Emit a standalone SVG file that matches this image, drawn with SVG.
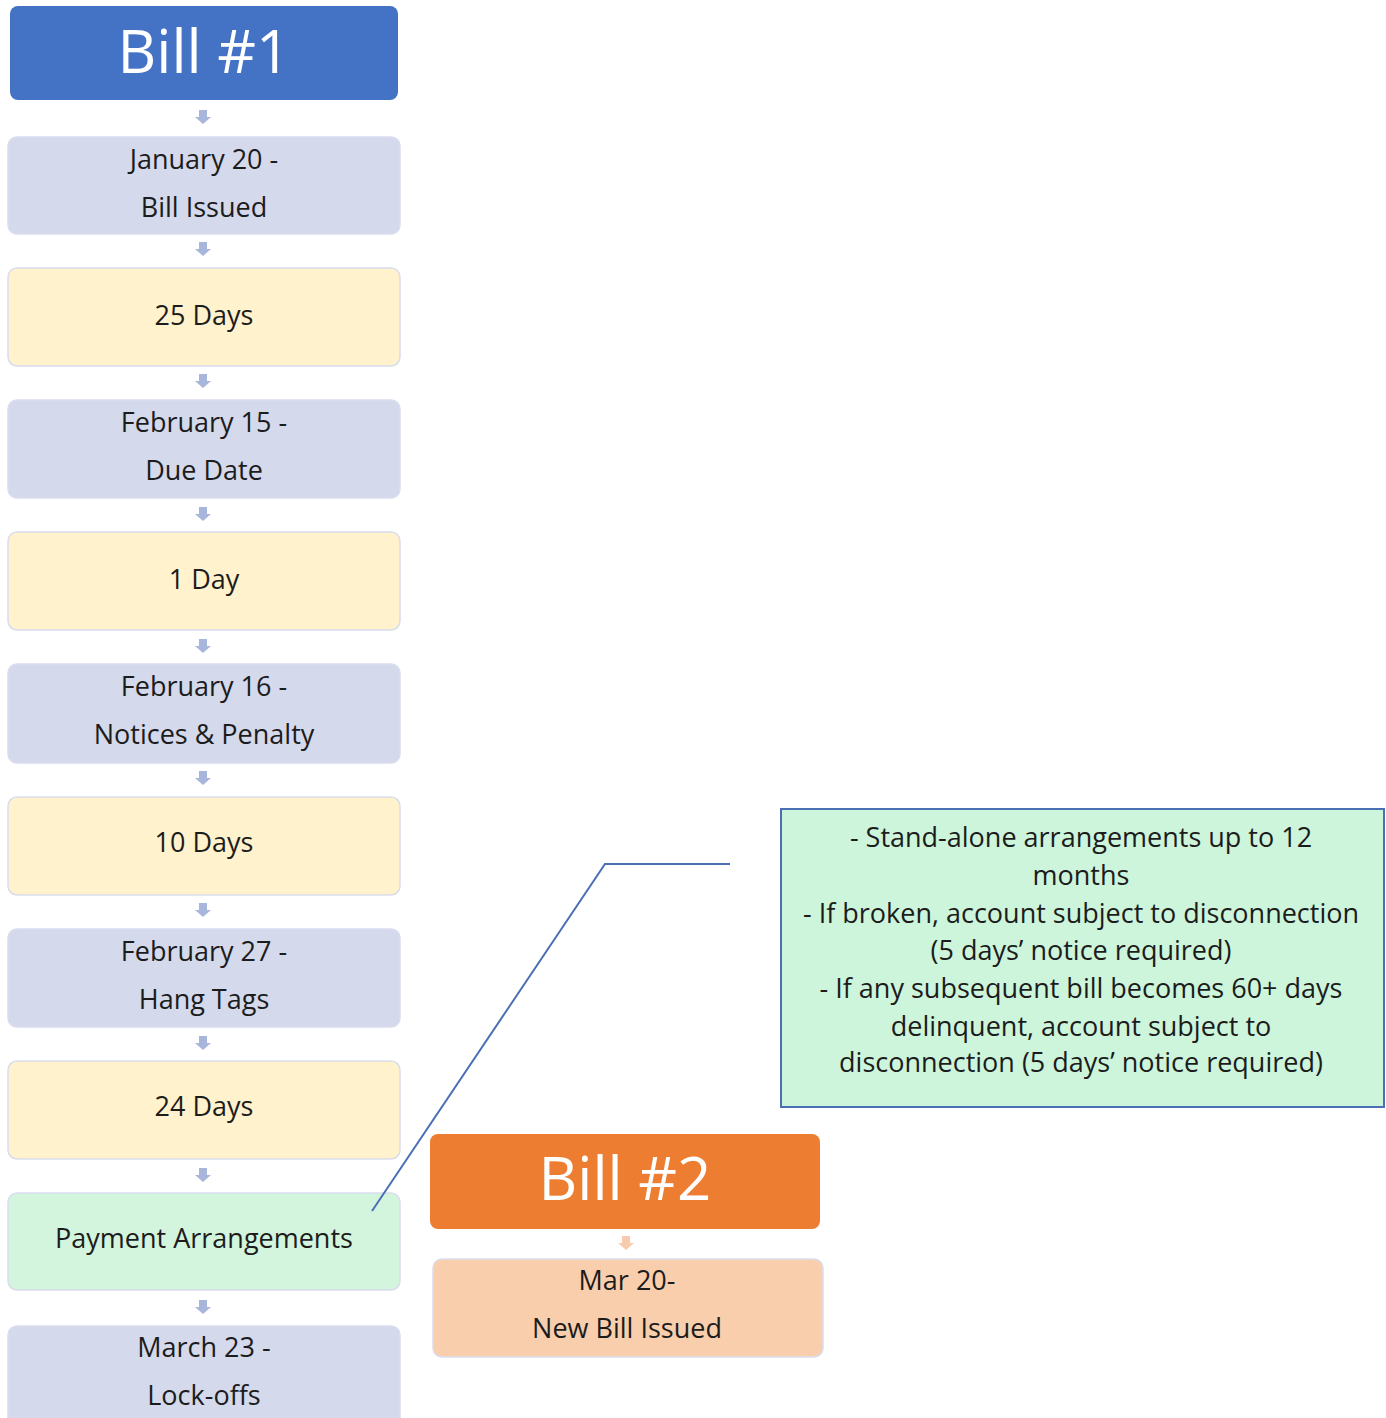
<svg xmlns="http://www.w3.org/2000/svg" width="1386" height="1418" viewBox="0 0 1386 1418">
<defs>
<style>
text{font-family:"Open Sans","Liberation Sans",sans-serif;text-anchor:middle;fill:#1c1c1c;font-size:27px}
.title{fill:#fff;font-size:60px}
.box{stroke:#d9ddee;stroke-width:1.5}
.lav{fill:#d4d9ec}
.yel{fill:#fff2cc}
.grn{fill:#d3f5de}
.arr{fill:#a9b6db}
.arr2{fill:#f8cbad}
.note{font-size:27px}
</style>
<path id="dn" d="M-4,-7 H4 V0 H8 L0,7 L-8,0 H-4 Z"/>
</defs>
<g id="bill1"><rect x="10" y="6" width="388" height="94" rx="8" fill="#4472c4"/><text class="title" x="204" y="73">Bill #1</text></g>
<g id="n1"><rect class="box lav" x="8" y="137" width="392" height="97" rx="9"/><text x="204" y="169">January 20 -</text><text x="204" y="217">Bill Issued</text></g>
<g id="n2"><rect class="box yel" x="8" y="268" width="392" height="98" rx="9"/><text x="204" y="325">25 Days</text></g>
<g id="n3"><rect class="box lav" x="8" y="400" width="392" height="98" rx="9"/><text x="204" y="432">February 15 -</text><text x="204" y="480">Due Date</text></g>
<g id="n4"><rect class="box yel" x="8" y="532" width="392" height="98" rx="9"/><text x="204" y="589">1 Day</text></g>
<g id="n5"><rect class="box lav" x="8" y="664" width="392" height="99" rx="9"/><text x="204" y="696">February 16 -</text><text x="204" y="744">Notices &amp; Penalty</text></g>
<g id="n6"><rect class="box yel" x="8" y="797" width="392" height="98" rx="9"/><text x="204" y="852">10 Days</text></g>
<g id="n7"><rect class="box lav" x="8" y="929" width="392" height="98" rx="9"/><text x="204" y="961">February 27 -</text><text x="204" y="1009">Hang Tags</text></g>
<g id="n8"><rect class="box yel" x="8" y="1061" width="392" height="98" rx="9"/><text x="204" y="1116">24 Days</text></g>
<g id="n9"><rect class="box grn" x="8" y="1193" width="392" height="97" rx="9"/><text x="204" y="1248">Payment Arrangements</text></g>
<g id="n10"><rect class="box lav" x="8" y="1326" width="392" height="110" rx="9"/><text x="204" y="1357">March 23 -</text><text x="204" y="1405">Lock-offs</text></g>
<g id="bill2"><rect x="430" y="1134" width="390" height="95" rx="8" fill="#ed7d31"/><text class="title" x="625" y="1200">Bill #2</text></g>
<g id="n11"><rect class="box" x="433" y="1259" width="390" height="98" rx="9" fill="#f8cead"/><text x="627" y="1290">Mar 20-</text><text x="627" y="1338">New Bill Issued</text></g>
<g id="note"><rect x="781" y="809" width="603" height="298" fill="#cdf5db" stroke="#4a6fb5" stroke-width="2"/>
<text class="note" x="1081" y="847">- Stand-alone arrangements up to 12</text>
<text class="note" x="1081" y="885">months</text>
<text class="note" x="1081" y="923">- If broken, account subject to disconnection</text>
<text class="note" x="1081" y="960">(5 days’ notice required)</text>
<text class="note" x="1081" y="998">- If any subsequent bill becomes 60+ days</text>
<text class="note" x="1081" y="1036">delinquent, account subject to</text>
<text class="note" x="1081" y="1072">disconnection (5 days’ notice required)</text>
</g>
<g id="connectors">
<use href="#dn" x="203" y="117" class="arr"/>
<use href="#dn" x="203" y="249" class="arr"/>
<use href="#dn" x="203" y="381" class="arr"/>
<use href="#dn" x="203" y="514" class="arr"/>
<use href="#dn" x="203" y="646" class="arr"/>
<use href="#dn" x="203" y="778" class="arr"/>
<use href="#dn" x="203" y="910" class="arr"/>
<use href="#dn" x="203" y="1043" class="arr"/>
<use href="#dn" x="203" y="1175" class="arr"/>
<use href="#dn" x="203" y="1307" class="arr"/>
<use href="#dn" x="626" y="1243" class="arr2"/>
<polyline points="372,1211 605,864 730,864" fill="none" stroke="#4a6fb5" stroke-width="2"/>
</g>
</svg>
